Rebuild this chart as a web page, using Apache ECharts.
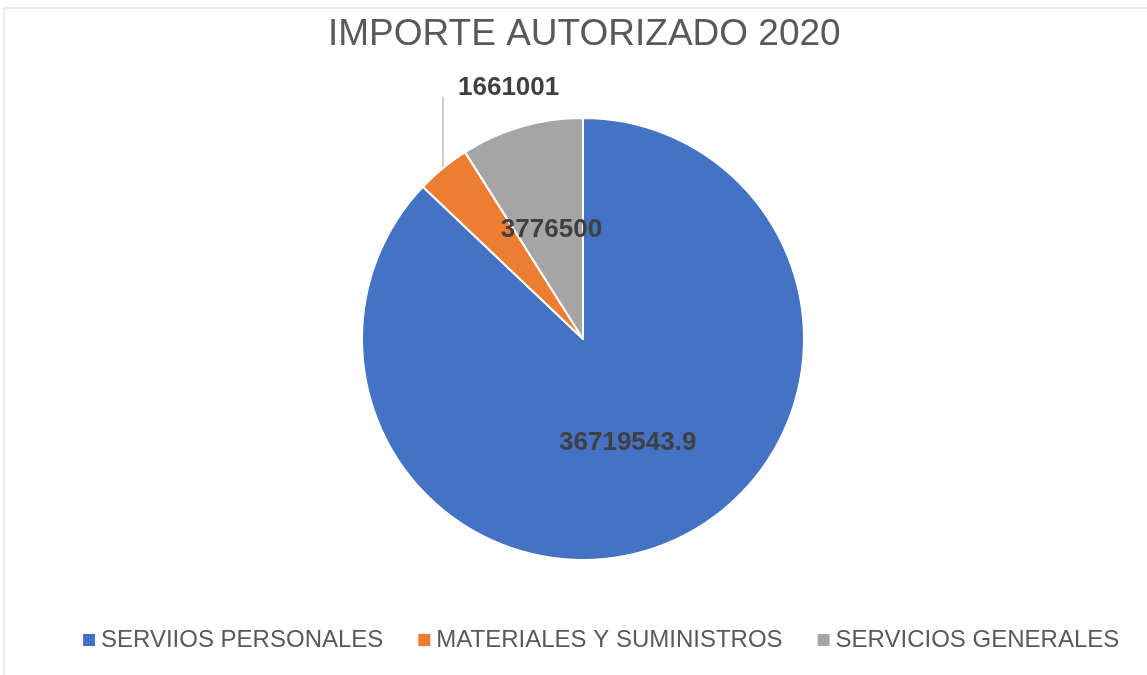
<!DOCTYPE html>
<html>
<head>
<meta charset="utf-8">
<script src="https://cdn.jsdelivr.net/npm/echarts@6/dist/echarts.min.js"></script>
<style>
  html, body { margin: 0; padding: 0; background: #fff; }
  #chart { width: 1147px; height: 675px; }
</style>
</head>
<body>
<div id="chart"></div>
<script>
// data
var categories = ['SERVIIOS PERSONALES', 'MATERIALES Y SUMINISTROS', 'SERVICIOS GENERALES'];
var values = [36719543.9, 1661001, 3776500];
var colors = ['#4472C4', '#ED7D31', '#A5A5A5'];

var font = "'Liberation Sans', Arial, sans-serif";

var chart = echarts.init(document.getElementById('chart'));

var pieData = categories.map(function(name, i) {
  var item = { name: name, value: values[i], itemStyle: { color: colors[i] } };
  if (i === 1) {
    // small slice: label outside, leader line meets the left-middle of its box
    item.label = {
      position: 'outside',
      padding: [0, 0, 18, 15],
      backgroundColor: 'rgba(255,255,255,0)'
    };
    item.labelLine = { show: true, length: 20, length2: 0 };
  }
  return item;
});

chart.setOption({
  animation: false,
  title: {
    text: 'IMPORTE AUTORIZADO 2020',
    left: 323,
    top: 11,
    textStyle: {
      fontFamily: font,
      fontWeight: 'normal',
      fontSize: 37,
      color: '#595959'
    }
  },
  legend: {
    top: 623,
    left: 76,
    icon: 'rect',
    itemWidth: 14,
    itemHeight: 14,
    itemGap: 33,
    textStyle: {
      fontFamily: font,
      fontSize: 24,
      color: '#595959'
    },
    data: categories
  },
  graphic: [{
    type: 'rect',
    shape: { x: 4, y: 8, width: 1200, height: 700 },
    style: { fill: 'none', stroke: '#d9d9d9', lineWidth: 1 },
    silent: true
  }],
  series: [{
    type: 'pie',
    center: [583, 339],
    radius: 221,
    startAngle: 90,
    clockwise: true,
    itemStyle: { borderColor: '#fff', borderWidth: 2 },
    label: {
      show: true,
      position: 'inside',
      formatter: '{c}',
      fontFamily: font,
      fontWeight: 'bold',
      fontSize: 26,
      color: '#404040'
    },
    labelLine: { lineStyle: { color: '#bfbfbf', width: 1.5 } },
    labelLayout: function(params) {
      if (params.dataIndex === 1) {
        return { x: 443, y: 75, align: 'left', verticalAlign: 'top' };
      }
    },
    emphasis: { disabled: true },
    data: pieData
  }]
});
</script>
</body>
</html>
